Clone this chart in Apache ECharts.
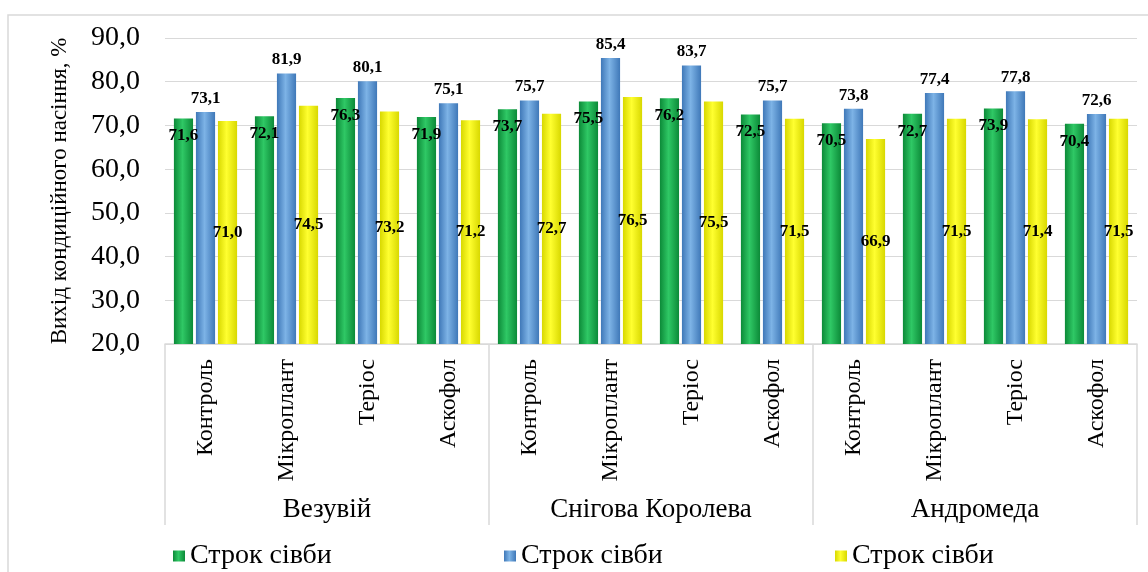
<!DOCTYPE html>
<html>
<head>
<meta charset="utf-8">
<script src="https://cdn.jsdelivr.net/npm/echarts@6/dist/echarts.min.js"></script>
<style>html,body{margin:0;padding:0;background:#fff;}#c{width:1148px;height:572px;}</style>
</head>
<body>
<div id="c"></div>
<script>
const treatments = ["Контроль","Мікроплант","Теріос","Аскофол","Контроль","Мікроплант","Теріос","Аскофол","Контроль","Мікроплант","Теріос","Аскофол"];
const varieties = ["Везувій","Снігова Королева","Андромеда"];
const seriesNames = ["Строк сівби 1","Строк сівби 2","Строк сівби 3"];
const legendLabel = "Строк сівби";
const term1 = [71.6,72.1,76.3,71.9,73.7,75.5,76.2,72.5,70.5,72.7,73.9,70.4];
const term2 = [73.1,81.9,80.1,75.1,75.7,85.4,83.7,75.7,73.8,77.4,77.8,72.6];
const term3 = [71.0,74.5,73.2,71.2,72.7,76.5,75.5,71.5,66.9,71.5,71.4,71.5];
const yTicks = [20,30,40,50,60,70,80,90];

const serif = '"Liberation Serif","Times New Roman",serif';
const fmt = v => v.toFixed(1).replace('.', ',');
function grad(edge, mid){
  return {type:'linear',x:0,y:0,x2:1,y2:0,colorStops:[
    {offset:0,color:edge},{offset:0.45,color:mid},{offset:1,color:edge}]};
}
const lbl = (pos, dist) => ({show:true, position:pos, distance:dist, fontFamily:serif, fontWeight:'bold', fontSize:17, color:'#000',
  formatter: p => fmt(p.value)});

const chart = echarts.init(document.getElementById('c'));
chart.setOption({
  animation:false,
  backgroundColor:'#fff',
  graphic:[{type:'rect', shape:{x:8,y:15,width:1160,height:600}, style:{fill:'none', stroke:'#d9d9d9', lineWidth:1.5}, silent:true}],
  grid:{left:165, right:11, top:38, bottom:228},
  legend: seriesNames.map((n,i)=>({
    data:[n], left:[168,499,830][i], top:537, icon:'rect', itemWidth:12, itemHeight:11, itemGap:4,
    textStyle:{fontFamily:serif, fontSize:28, color:'#000'}, formatter:()=>legendLabel, selectedMode:false
  })),
  xAxis:[
    {type:'category', data:treatments, gridIndex:0, position:'bottom',
     axisLine:{show:true, lineStyle:{color:'#d9d9d9', width:1.5}},
     axisTick:{show:false},
     axisLabel:{interval:0, rotate:90, margin:15, fontFamily:serif, fontSize:24, color:'#000'}},
    {type:'category', data:varieties, gridIndex:0, position:'bottom', offset:0,
     axisLine:{show:false},
     axisTick:{show:true, length:181, interval:0, lineStyle:{color:'#d9d9d9', width:1.5}},
     axisLabel:{interval:0, margin:152, fontFamily:serif, fontSize:27, color:'#000'}}
  ],
  yAxis:{type:'value', min:yTicks[0], max:yTicks[yTicks.length-1], interval:10,
    name:'Вихід кондиційного насіння, %', nameLocation:'middle', nameRotate:90, nameGap:94,
    nameTextStyle:{fontFamily:serif, fontSize:23, color:'#000'},
    axisLine:{show:false}, axisTick:{show:false},
    splitLine:{lineStyle:{color:'#d9d9d9', width:1}},
    axisLabel:{margin:25, fontFamily:serif, fontSize:28, color:'#000', formatter:v=>fmt(v)}},
  series:[
    {name:seriesNames[0], type:'bar', data:term1, barCategoryGap:'22%', barGap:'15%',
     itemStyle:{color:grad('#0c8a38','#2fc865')}, label:lbl('insideTop',9)},
    {name:seriesNames[1], type:'bar', data:term2,
     itemStyle:{color:grad('#3f78b8','#7db3e6')}, label:lbl('top',5)},
    {name:seriesNames[2], type:'bar', data:term3,
     itemStyle:{color:grad('#d8d800','#ffff30')}, label:lbl('inside',0)}
  ]
});
</script>
</body>
</html>
